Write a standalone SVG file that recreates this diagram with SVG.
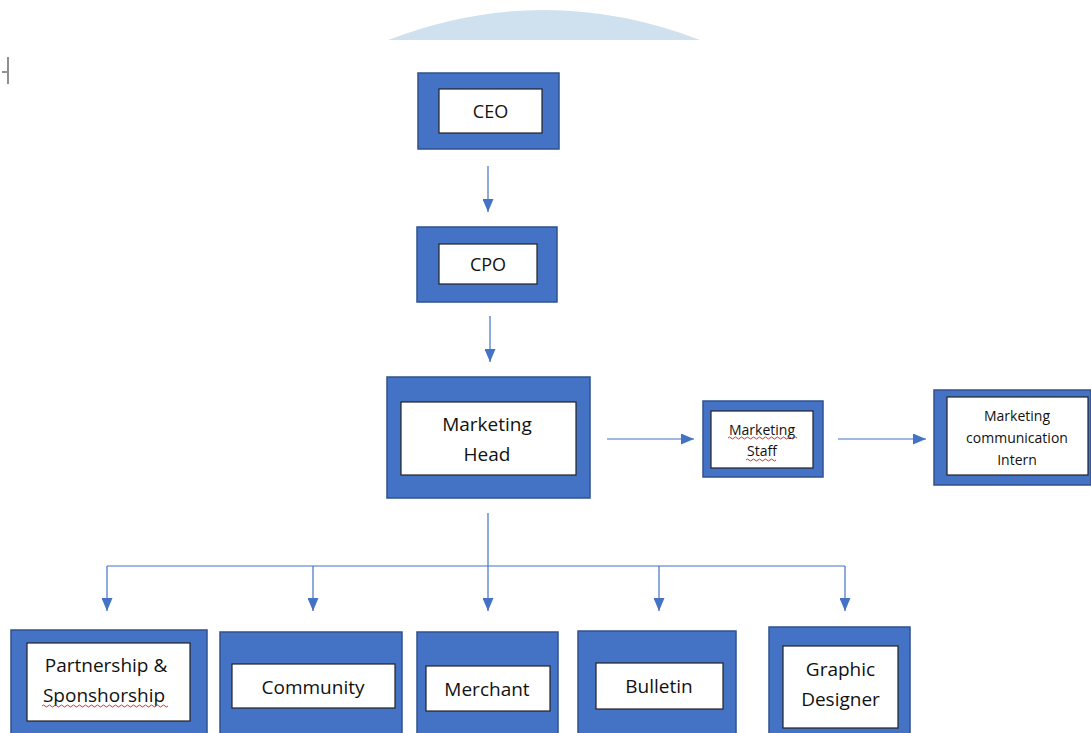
<svg xmlns="http://www.w3.org/2000/svg" width="1091" height="733" viewBox="0 0 1091 733">
<defs>
<marker id="ah" markerWidth="13" markerHeight="11" refX="13" refY="5.5" orient="auto" markerUnits="userSpaceOnUse" viewBox="0 0 13 11">
<path d="M0,0 L13,5.5 L0,11 Z" fill="#4472c4"/>
</marker>
<style>
.outer{fill:#4472c4;stroke:#2f528f;stroke-width:1.5}
.inner{fill:#ffffff;stroke:#222;stroke-width:1.2}
.t{font-family:"Open Sans","Noto Sans",sans-serif;fill:#111;text-anchor:middle}
.conn{stroke:#4472c4;stroke-width:1.2;fill:none}
.sq{stroke:#e03030;stroke-width:1;fill:none}
</style>
</defs>
<rect width="1091" height="733" fill="#ffffff"/>
<path d="M388,40 Q544,-20 700,40 Z" fill="#cfe0ef"/>
<g id="cursor" stroke="#444" stroke-width="1.2">
<line x1="8" y1="57" x2="8" y2="84"/>
<line x1="2" y1="72" x2="7" y2="72"/>
</g>
<g id="connectors">
<line class="conn" x1="488" y1="166" x2="488" y2="212" marker-end="url(#ah)"/>
<line class="conn" x1="490" y1="316" x2="490" y2="362" marker-end="url(#ah)"/>
<line class="conn" x1="607" y1="439" x2="694" y2="439" marker-end="url(#ah)"/>
<line class="conn" x1="838" y1="439" x2="926" y2="439" marker-end="url(#ah)"/>
<line class="conn" x1="488" y1="513" x2="488" y2="611" marker-end="url(#ah)"/>
<line class="conn" x1="107" y1="566" x2="845" y2="566"/>
<line class="conn" x1="107" y1="566" x2="107" y2="611" marker-end="url(#ah)"/>
<line class="conn" x1="313" y1="566" x2="313" y2="611" marker-end="url(#ah)"/>
<line class="conn" x1="659" y1="566" x2="659" y2="611" marker-end="url(#ah)"/>
<line class="conn" x1="845" y1="566" x2="845" y2="611" marker-end="url(#ah)"/>
</g>
<g id="ceo">
<rect class="outer" x="418" y="73" width="141" height="76"/>
<rect class="inner" x="439" y="89" width="103" height="44"/>
<text class="t" x="490.5" y="118" font-size="18">CEO</text>
</g>
<g id="cpo">
<rect class="outer" x="417" y="227" width="140" height="75"/>
<rect class="inner" x="439" y="244" width="98" height="40"/>
<text class="t" x="488" y="271" font-size="18">CPO</text>
</g>
<g id="marketing-head">
<rect class="outer" x="387" y="377" width="203" height="121"/>
<rect class="inner" x="401" y="402" width="175" height="73"/>
<text class="t" x="487" y="431" font-size="19">Marketing</text>
<text class="t" x="487" y="461" font-size="19">Head</text>
</g>
<g id="marketing-staff">
<rect class="outer" x="703" y="401" width="120" height="76"/>
<rect class="inner" x="711" y="411" width="102" height="57"/>
<text class="t" x="762" y="435" font-size="14">Marketing</text>
<text class="t" x="762" y="456" font-size="14">Staff</text>
<path class="sq" d="M728,438 q1.5,-2 3,0 t3,0 t3,0 t3,0 t3,0 t3,0 t3,0 t3,0 t3,0 t3,0 t3,0 t3,0 t3,0 t3,0 t3,0 t3,0 t3,0 t3,0 t3,0 t3,0 t3,0 t3,0 t3,0"/>
<path class="sq" d="M746,460 q1.5,-2 3,0 t3,0 t3,0 t3,0 t3,0 t3,0 t3,0 t3,0 t3,0 t3,0"/>
</g>
<g id="marketing-intern">
<rect class="outer" x="934" y="390" width="157" height="95"/>
<rect class="inner" x="947" y="397" width="141" height="78"/>
<text class="t" x="1017" y="421" font-size="14">Marketing</text>
<text class="t" x="1017" y="443" font-size="14">communication</text>
<text class="t" x="1017" y="465" font-size="14">Intern</text>
</g>
<g id="partnership">
<rect class="outer" x="11" y="630" width="196" height="110"/>
<rect class="inner" x="27" y="643" width="163" height="78"/>
<text class="t" x="106" y="672" font-size="19">Partnership &amp;</text>
<text class="t" x="104" y="702" font-size="19">Sponshorship</text>
<path class="sq" d="M42,706 q1.5,-2 3,0 t3,0 t3,0 t3,0 t3,0 t3,0 t3,0 t3,0 t3,0 t3,0 t3,0 t3,0 t3,0 t3,0 t3,0 t3,0 t3,0 t3,0 t3,0 t3,0 t3,0 t3,0 t3,0 t3,0 t3,0 t3,0 t3,0 t3,0 t3,0 t3,0 t3,0 t3,0 t3,0 t3,0 t3,0 t3,0 t3,0 t3,0 t3,0 t3,0 t3,0 t3,0"/>
</g>
<g id="community">
<rect class="outer" x="220" y="632" width="182" height="110"/>
<rect class="inner" x="232" y="664" width="163" height="44"/>
<text class="t" x="313" y="694" font-size="19">Community</text>
</g>
<g id="merchant">
<rect class="outer" x="417" y="632" width="141" height="110"/>
<rect class="inner" x="426" y="666" width="124" height="45"/>
<text class="t" x="487" y="696" font-size="19">Merchant</text>
</g>
<g id="bulletin">
<rect class="outer" x="578" y="631" width="158" height="110"/>
<rect class="inner" x="596" y="663" width="127" height="46"/>
<text class="t" x="659" y="693" font-size="19">Bulletin</text>
</g>
<g id="graphic-designer">
<rect class="outer" x="769" y="627" width="141" height="115"/>
<rect class="inner" x="783" y="646" width="115" height="82"/>
<text class="t" x="840.5" y="676" font-size="19">Graphic</text>
<text class="t" x="840.5" y="706" font-size="19">Designer</text>
</g>
</svg>
